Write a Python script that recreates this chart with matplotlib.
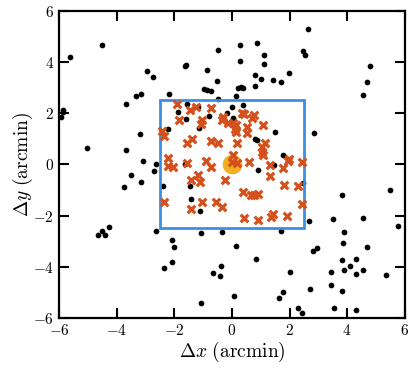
import matplotlib
matplotlib.use("Agg")
import matplotlib.pyplot as plt
from matplotlib.patches import Rectangle
from matplotlib.ticker import FuncFormatter
import numpy as np

plt.rcParams['mathtext.fontset'] = 'cm'
plt.rcParams['font.family'] = 'serif'
plt.rcParams['font.serif'] = ['cmr10', 'DejaVu Serif']

# black field sources (arcmin)
field_x = [-4.51, -5.64, -2.94, -2.75, -3.33, -3.15, -2.20, -3.70, -5.89, -5.95, -5.86,
           -2.23, -3.18, -5.03, -3.68, -3.08, -2.65,
           0.28, 0.86, -0.47, 1.10, 0.28, -1.61, -1.64, 1.10, -0.88, 0.79, 1.02, 1.42,
           1.69, 1.98, -0.51, -0.96, -0.86, -0.72, 0.22, 0.31, 0.38, 0.81, 0.13, -0.47,
           2.64, 2.48, 2.55, 4.78, 4.70, 4.56, 2.86,
           -1.55, -1.86, -1.17, 0.01, 0.39, -0.16, -0.81, 0.05, -1.61, -1.16, 0.80, 0.88,
           1.48, 1.79, -1.63, 0.90, 1.47, -1.46, -1.43, -1.11, 2.48,
           -2.71, -3.52, -3.16, -3.77, -2.41, -4.29, -4.51, -4.64, -4.40, -2.65, -2.09,
           -2.00, -2.09, -2.36,
           -1.07, -0.34, 1.70, 0.15, 0.83, -0.38, -0.65, -0.43, 2.00, 1.77, 1.63, 0.07,
           -1.09,
           3.82, 5.50, 2.69, 3.50, 4.56, 5.76, 3.90, 3.86, 4.70, 2.82, 2.96, 3.82, 4.30,
           3.45, 3.89, 4.10, 4.55, 4.30, 5.37, 3.43, 2.70, 3.84, 2.29, 2.42, 3.55, 4.31]
field_y = [4.67, 4.21, 3.63, 3.42, 2.68, 2.75, 2.74, 2.34, 2.13, 1.87, 2.04,
           1.37, 1.19, 0.64, 0.57, 0.14, 0.02,
           4.68, 4.75, 4.47, 4.28, 4.04, 3.90, 3.84, 3.93, 3.68, 3.48, 3.33, 3.29,
           3.21, 3.56, 3.27, 2.96, 2.90, 2.86, 2.98, 3.04, 2.98, 3.07, 2.69, 2.56,
           5.30, 4.45, 4.27, 3.85, 3.21, 2.70, 1.23,
           2.34, 2.05, 2.26, 2.26, 2.31, 2.01, 1.90, 1.83, 1.77, 1.44, 1.01, 0.97,
           1.27, 0.37, 0.03, -0.21, -0.03, -0.86, -1.36, -1.84, -0.74,
           -0.24, -0.42, -0.70, -0.88, -0.85, -2.43, -2.59, -2.75, -2.75, -2.62, -2.96,
           -3.21, -3.80, -4.04,
           -2.70, -2.64, -2.61, -3.18, -3.69, -3.96, -4.25, -4.37, -4.20, -4.97, -5.23,
           -5.16, -5.41,
           -1.20, -1.02, -2.23, -2.14, -2.10, -2.41, -2.65, -3.08, -3.21, -3.39, -3.26,
           -3.72, -3.68, -4.19, -4.11, -3.96, -4.11, -4.28, -4.34, -4.73, -4.88, -4.95,
           -5.63, -5.79, -5.63, -5.71]

# members inside the box (orange crosses)
memb_x = [-1.92, -1.46, -1.24, -0.74, -1.83, -1.05, -1.07, -0.30, -0.33, -0.15, 0.02,
          0.15, 0.12, 0.15, 0.36, 0.43, 0.68, 0.77, 0.53, 0.53, 1.08, -2.42, -2.38,
          -1.58, -1.40, -0.72, -0.47, 0.16, 1.15, 1.05, 1.03, 1.08, 0.04, -2.21, -2.21,
          -2.04, -1.55, -0.91, -0.74, 0.01, 0.16, 0.58, 1.32, 1.97, 1.93, 2.43, 1.78,
          1.32, -1.17, -1.43, -1.10, -0.24, 1.82, 2.28, 0.40, 0.65, 0.78, 0.90, -2.36,
          -1.03, -0.57, -0.36, -1.42, 2.44, 0.43, 0.90, 1.35, 1.44, 1.92]
memb_y = [2.35, 2.11, 2.25, 2.20, 1.75, 1.74, 1.57, 1.85, 1.72, 1.62, 1.60,
          1.52, 1.40, 1.28, 2.01, 1.96, 1.81, 1.94, 1.48, 1.23, 1.54, 1.30, 1.10,
          0.85, 1.00, 0.92, 0.82, 0.82, 0.84, 0.66, 0.50, 0.35, 0.37, 0.24, -0.05,
          -0.11, 0.04, 0.13, -0.12, 0.08, 0.04, 0.08, -0.01, 0.22, 0.14, 0.10, -0.14,
          -0.44, -0.42, -0.63, -0.69, -0.61, -0.80, -0.86, -1.07, -1.18, -1.18, -1.17, -1.47,
          -1.48, -1.49, -1.67, -1.75, -1.55, -2.11, -2.17, -2.05, -1.93, -2.00]

center = (0.0, 0.0)
box_half = 2.5
ticks = [-6, -4, -2, 0, 2, 4, 6]

fig = plt.figure(figsize=(4.15, 3.74), dpi=100)
ax = fig.add_axes([0.143, 0.150, 0.832, 0.821])

ax.scatter(field_x, field_y, s=17, c='black', lw=0, zorder=2)
ax.add_patch(Rectangle((center[0] - box_half, center[1] - box_half), 2 * box_half, 2 * box_half,
                       fill=False, ec='#3b8ee6', lw=2.0, zorder=3))
ax.scatter([center[0]], [center[1]], s=200, c='#f2b01e', lw=0, zorder=4)
ax.scatter(memb_x, memb_y, s=30, marker='x', c='#d4501c', lw=2.3, zorder=5)

ax.set_xlim(-6, 6)
ax.set_ylim(-6, 6)
ax.set_xticks(ticks)
ax.set_yticks(ticks)
fmt = FuncFormatter(lambda v, p: r'$%d$' % v)
ax.xaxis.set_major_formatter(fmt)
ax.yaxis.set_major_formatter(fmt)
ax.tick_params(direction='in', length=7, width=1.5, top=True, right=True, labelsize=11, pad=4)
for sp in ax.spines.values():
    sp.set_linewidth(1.6)

ax.set_xlabel(r'$\Delta x\ \mathrm{(arcmin)}$', fontsize=14, labelpad=1)
ax.set_ylabel(r'$\Delta y\ \mathrm{(arcmin)}$', fontsize=14, labelpad=-2)

fig.savefig('out.png', dpi=100)
